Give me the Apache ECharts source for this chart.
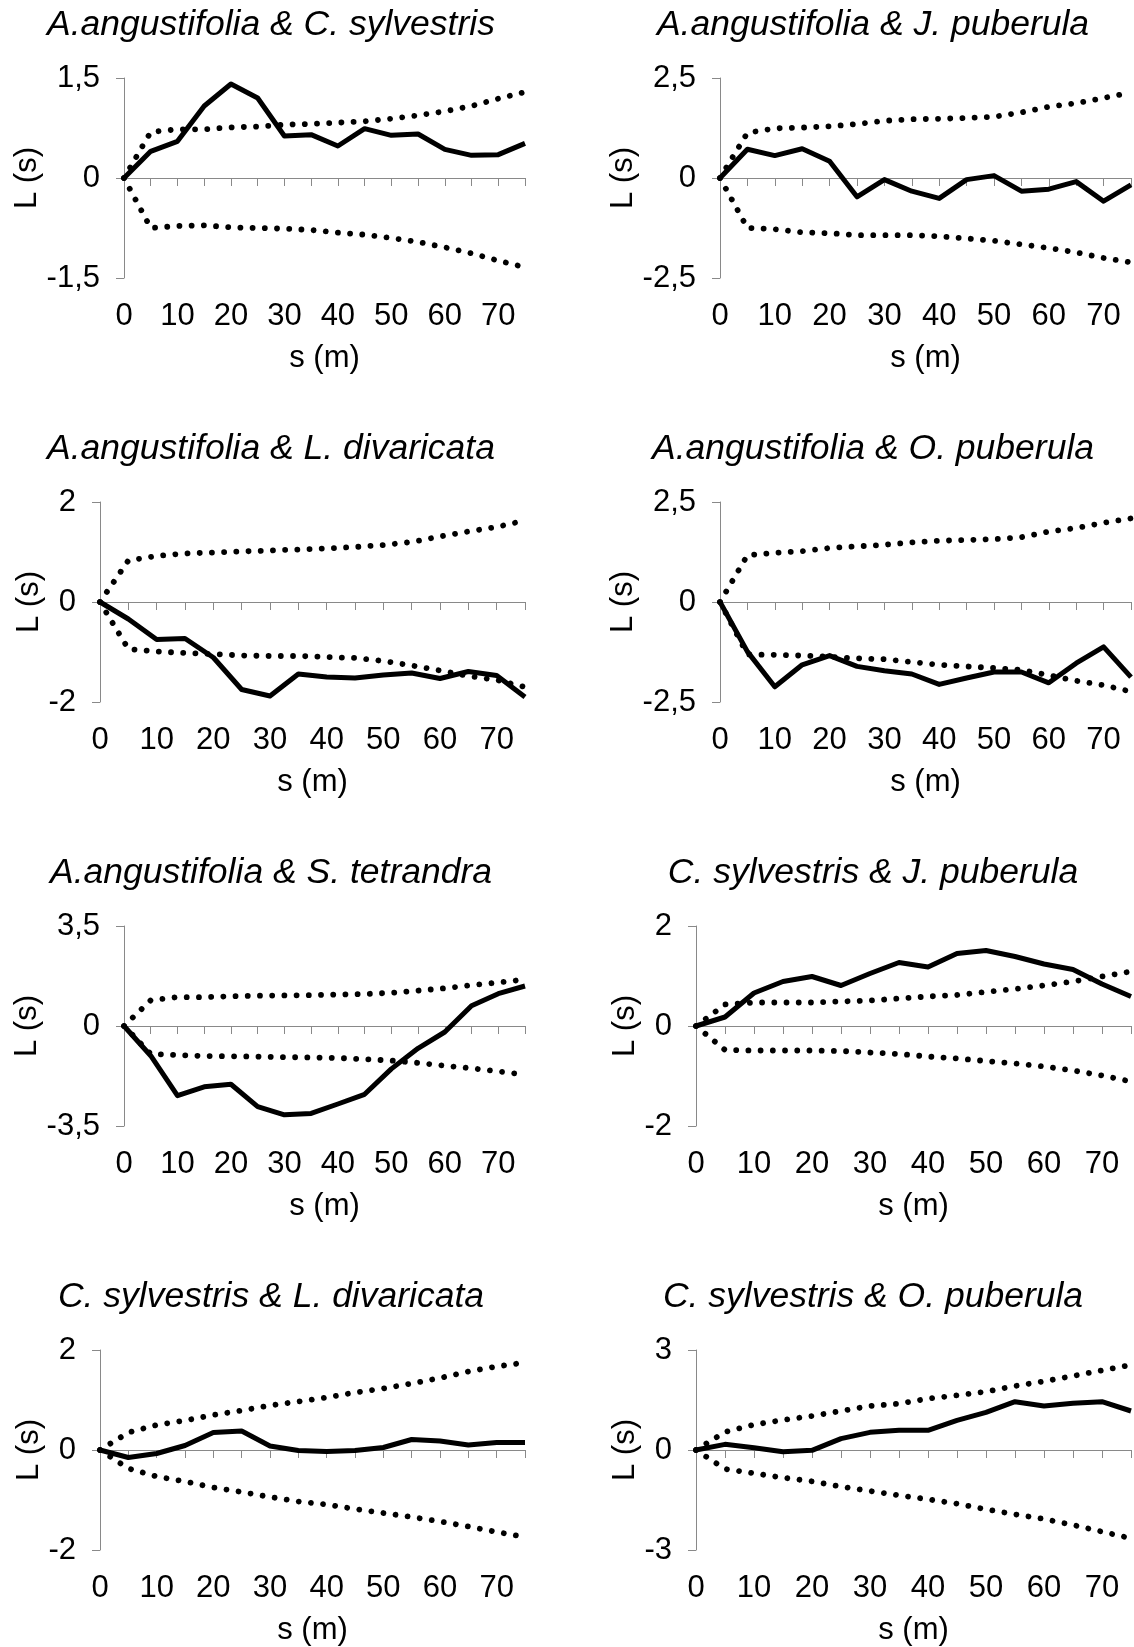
<!DOCTYPE html>
<html>
<head>
<meta charset="utf-8">
<script src="https://cdn.jsdelivr.net/npm/echarts@6/dist/echarts.min.js"></script>
<style>
  html, body { margin: 0; padding: 0; background: #ffffff; }
  #chart { width: 1134px; height: 1647px; }
</style>
</head>
<body>
<div id="chart"></div>
<script>
// Distance classes s (m)
const distance = [0, 5, 10, 15, 20, 25, 30, 35, 40, 45, 50, 55, 60, 65, 70, 75];

// Panel titles (species pairs)
const pairTitles = [
  'A.angustifolia & C. sylvestris',
  'A.angustifolia & J. puberula',
  'A.angustifolia & L. divaricata',
  'A.angustifolia & O. puberula',
  'A.angustifolia & S. tetrandra',
  'C. sylvestris & J. puberula',
  'C. sylvestris & L. divaricata',
  'C. sylvestris & O. puberula'
];

// Y-axis limits (ticks at -limit, 0, +limit)
const yLimits = [1.5, 2.5, 2, 2.5, 3.5, 2, 2, 3];

// Observed L(s) and simulation envelopes, one triple per pair
const acsObserved = [0, 0.40, 0.55, 1.08, 1.41, 1.20, 0.63, 0.65, 0.48, 0.74, 0.64, 0.66, 0.43, 0.34, 0.35, 0.52];
const acsUpper    = [0, 0.69, 0.73, 0.73, 0.76, 0.77, 0.80, 0.81, 0.83, 0.85, 0.89, 0.94, 1.00, 1.08, 1.19, 1.29];
const acsLower    = [0, -0.75, -0.72, -0.71, -0.74, -0.75, -0.76, -0.78, -0.82, -0.85, -0.90, -0.96, -1.04, -1.13, -1.24, -1.34];

const ajpObserved = [0, 0.72, 0.56, 0.73, 0.42, -0.47, -0.04, -0.33, -0.51, -0.04, 0.06, -0.33, -0.28, -0.09, -0.58, -0.17];
const ajpUpper    = [0, 1.13, 1.24, 1.26, 1.29, 1.35, 1.43, 1.47, 1.48, 1.50, 1.53, 1.64, 1.78, 1.87, 2.00, 2.14];
const ajpLower    = [0, -1.25, -1.28, -1.36, -1.38, -1.43, -1.43, -1.43, -1.46, -1.51, -1.57, -1.66, -1.75, -1.86, -2.00, -2.11];

const aldObserved = [0, -0.34, -0.75, -0.73, -1.11, -1.75, -1.88, -1.44, -1.50, -1.52, -1.46, -1.42, -1.53, -1.39, -1.47, -1.90];
const aldUpper    = [0, 0.83, 0.92, 0.97, 0.99, 1.01, 1.03, 1.05, 1.07, 1.10, 1.14, 1.20, 1.31, 1.41, 1.50, 1.63];
const aldLower    = [0, -0.94, -0.99, -1.02, -1.04, -1.07, -1.08, -1.08, -1.10, -1.12, -1.18, -1.27, -1.37, -1.48, -1.56, -1.70];

const aopObserved = [0, -1.24, -2.12, -1.57, -1.34, -1.61, -1.72, -1.80, -2.06, -1.90, -1.75, -1.75, -2.02, -1.53, -1.12, -1.88];
const aopUpper    = [0, 1.17, 1.23, 1.27, 1.35, 1.39, 1.43, 1.49, 1.53, 1.55, 1.57, 1.62, 1.76, 1.85, 1.98, 2.09];
const aopLower    = [0, -1.31, -1.32, -1.34, -1.37, -1.41, -1.43, -1.50, -1.57, -1.61, -1.65, -1.70, -1.83, -1.97, -2.08, -2.24];

const astObserved = [0, -1.04, -2.44, -2.13, -2.04, -2.82, -3.11, -3.06, -2.73, -2.39, -1.50, -0.78, -0.21, 0.71, 1.13, 1.40];
const astUpper    = [0, 0.90, 1.01, 1.01, 1.04, 1.06, 1.07, 1.08, 1.10, 1.12, 1.16, 1.24, 1.32, 1.43, 1.52, 1.63];
const astLower    = [0, -0.98, -1.02, -1.05, -1.06, -1.07, -1.09, -1.10, -1.12, -1.16, -1.21, -1.29, -1.39, -1.48, -1.59, -1.70];

const cjpObserved = [0, 0.18, 0.66, 0.89, 0.99, 0.81, 1.05, 1.27, 1.18, 1.45, 1.51, 1.39, 1.24, 1.13, 0.84, 0.59];
const cjpUpper    = [0, 0.43, 0.47, 0.47, 0.47, 0.49, 0.51, 0.55, 0.59, 0.62, 0.68, 0.74, 0.81, 0.89, 0.99, 1.09];
const cjpLower    = [0, -0.48, -0.49, -0.49, -0.49, -0.50, -0.53, -0.56, -0.61, -0.65, -0.70, -0.75, -0.81, -0.89, -0.99, -1.11];

const cldObserved = [0, -0.15, -0.07, 0.09, 0.35, 0.38, 0.08, -0.01, -0.03, -0.01, 0.05, 0.21, 0.18, 0.10, 0.15, 0.15];
const cldUpper    = [0, 0.35, 0.50, 0.59, 0.70, 0.79, 0.89, 0.97, 1.05, 1.15, 1.23, 1.33, 1.44, 1.57, 1.67, 1.75];
const cldLower    = [0, -0.37, -0.53, -0.63, -0.75, -0.84, -0.94, -1.03, -1.09, -1.18, -1.26, -1.34, -1.43, -1.53, -1.64, -1.74];

const copObserved = [0, 0.17, 0.07, -0.05, -0.01, 0.34, 0.53, 0.59, 0.59, 0.89, 1.13, 1.45, 1.32, 1.40, 1.45, 1.17];
const copUpper    = [0, 0.54, 0.76, 0.90, 1.02, 1.17, 1.32, 1.39, 1.54, 1.64, 1.75, 1.92, 2.06, 2.22, 2.39, 2.55];
const copLower    = [0, -0.57, -0.70, -0.83, -0.94, -1.10, -1.23, -1.36, -1.48, -1.61, -1.78, -1.93, -2.07, -2.25, -2.45, -2.65];

const observedSets = [acsObserved, ajpObserved, aldObserved, aopObserved, astObserved, cjpObserved, cldObserved, copObserved];
const upperSets    = [acsUpper, ajpUpper, aldUpper, aopUpper, astUpper, cjpUpper, cldUpper, copUpper];
const lowerSets    = [acsLower, ajpLower, aldLower, aopLower, astLower, cjpLower, cldLower, copLower];

// ---- layout (pixels) ----
const FONT = '"Liberation Sans", Arial, sans-serif';
const GREY = '#898989';
const TICK_FONT = 31;
const TITLE_FONT = 35.5;
const axisXPos = [124, 720, 100, 720, 124, 696, 100, 696];   // y-axis line position per panel
const colRight = [525, 1131];
const rowTop = [78, 502, 926, 1350];
const PLOT_H = 200;
const titleCenterX = [271, 873];
const yNameCenterX = [31, 627];

const fmt = v => String(v).replace('.', ',');

const grids = [], xAxes = [], yAxes = [], series = [], graphics = [];

pairTitles.forEach((title, i) => {
  const col = i % 2, row = Math.floor(i / 2);
  const left = axisXPos[i], top = rowTop[row];
  const lim = yLimits[i];

  grids.push({ left: left, top: top, width: colRight[col] - left, height: PLOT_H });

  yAxes.push({
    gridIndex: i, type: 'value', min: -lim, max: lim, interval: lim,
    axisLine: { show: true, onZero: false, lineStyle: { color: GREY, width: 1 } },
    axisTick: { show: true, length: 8, lineStyle: { color: GREY, width: 1 } },
    splitLine: { show: false },
    axisLabel: { margin: 24, fontSize: TICK_FONT, color: '#000', fontFamily: FONT, formatter: fmt },
    name: 'L (s)', nameLocation: 'middle', nameRotate: 90,
    nameGap: left - yNameCenterX[col] - 16,
    nameTextStyle: { fontSize: TICK_FONT, color: '#000', fontFamily: FONT }
  });

  // axis line through zero with tick marks at every distance class
  xAxes.push({
    gridIndex: i, type: 'category', data: distance, boundaryGap: false, position: 'bottom',
    axisLine: { show: true, onZero: true, onZeroAxisIndex: i, lineStyle: { color: GREY, width: 1 } },
    axisTick: { show: true, interval: 0, length: 8, lineStyle: { color: GREY, width: 1 } },
    axisLabel: { show: false },
    splitLine: { show: false }
  });
  // distance labels along the bottom of the plot
  xAxes.push({
    gridIndex: i, type: 'category', data: distance, boundaryGap: false, position: 'bottom',
    axisLine: { show: false, onZero: false },
    axisTick: { show: false },
    splitLine: { show: false },
    axisLabel: { interval: 1, margin: 23, fontSize: TICK_FONT, color: '#000', fontFamily: FONT },
    name: 's (m)', nameLocation: 'middle', nameGap: 65,
    nameTextStyle: { fontSize: TICK_FONT, color: '#000', fontFamily: FONT }
  });

  series.push({
    type: 'line', xAxisIndex: 2 * i, yAxisIndex: i, data: observedSets[i],
    symbol: 'none', silent: true, z: 3,
    lineStyle: { color: '#000', width: 5, join: 'round' }
  });
  [upperSets[i], lowerSets[i]].forEach(env => {
    series.push({
      type: 'line', xAxisIndex: 2 * i, yAxisIndex: i, data: env,
      symbol: 'none', silent: true, z: 4,
      lineStyle: { color: '#000', width: 5.8, type: [0.01, 12.2], cap: 'round' }
    });
  });

  graphics.push({
    type: 'text', x: titleCenterX[col], y: top - 53,
    style: {
      text: title, fill: '#000', fontSize: TITLE_FONT, fontStyle: 'italic',
      fontFamily: FONT, align: 'center', verticalAlign: 'middle'
    }
  });
});

const chart = echarts.init(document.getElementById('chart'), null, { renderer: 'canvas' });
chart.setOption({
  animation: false,
  backgroundColor: '#ffffff',
  grid: grids,
  xAxis: xAxes,
  yAxis: yAxes,
  series: series,
  graphic: graphics
});
</script>
</body>
</html>
